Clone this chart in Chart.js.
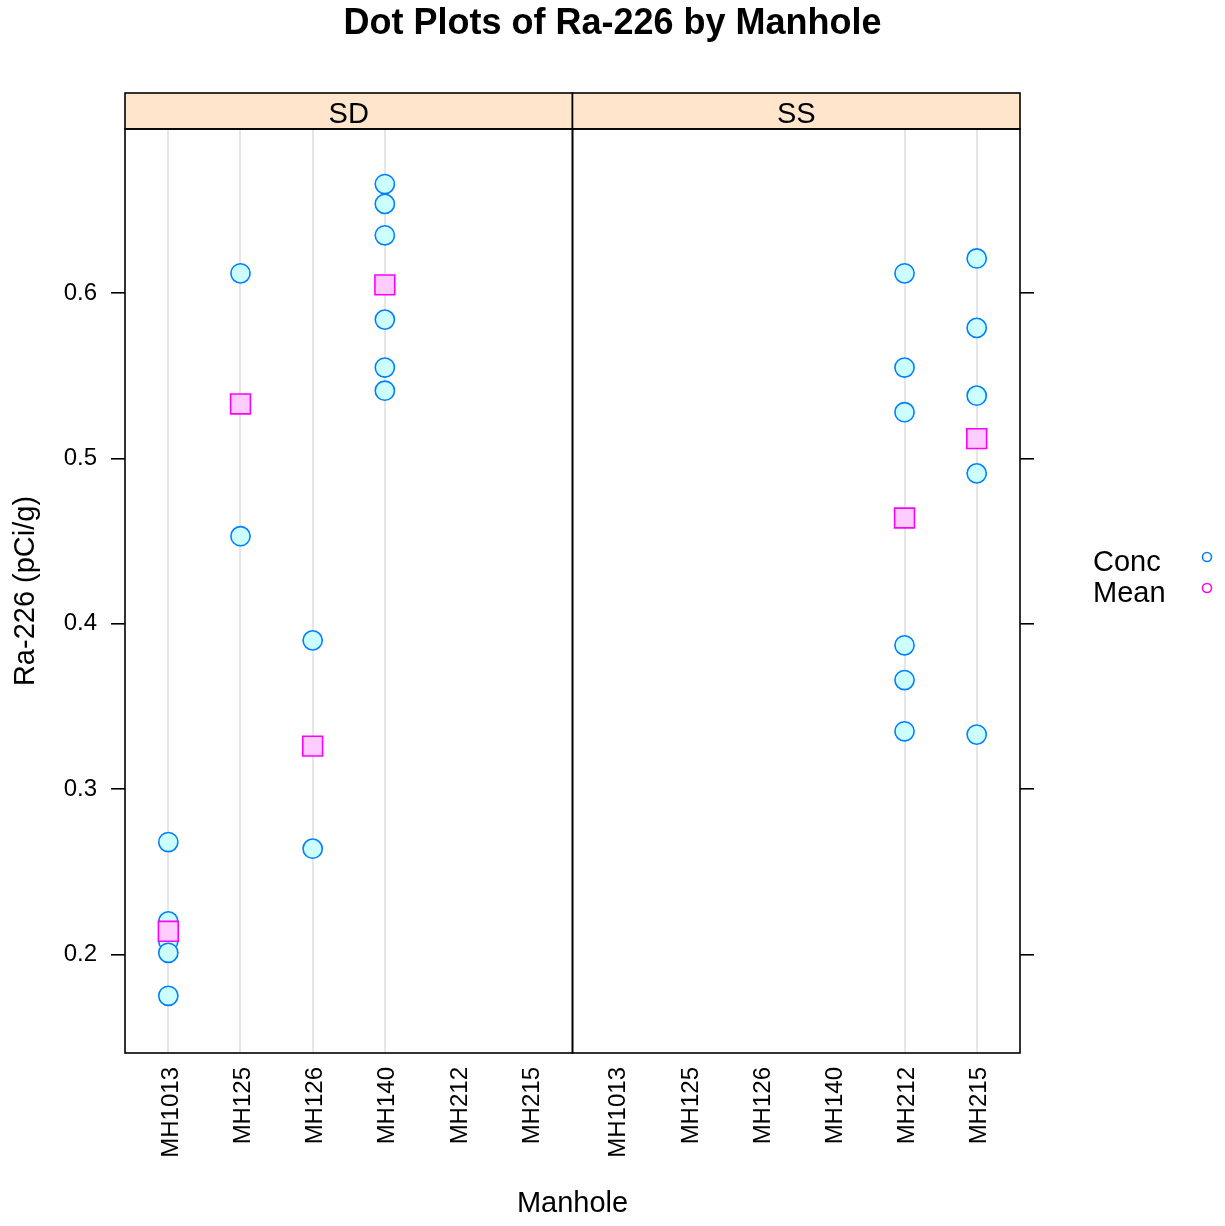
<!DOCTYPE html>
<html>
<head>
<meta charset="utf-8">
<title>Dot Plots of Ra-226 by Manhole</title>
<script src="https://cdn.jsdelivr.net/npm/chart.js@4.4.1/dist/chart.umd.min.js"></script>
<style>
  html, body { margin: 0; padding: 0; background: #ffffff; }
  #wrap { position: relative; width: 1225px; height: 1226px; }
</style>
</head>
<body>
<div id="wrap"><canvas id="chart" width="1225" height="1226"></canvas></div>
<script>
// Manhole categories (same order in every panel)
const manholes = ['MH1013', 'MH125', 'MH126', 'MH140', 'MH212', 'MH215'];
// Sample-type panels
const panels = ['SD', 'SS'];

// Ra-226 concentrations (pCi/g) per manhole, SD panel
const sdConc = [
  [0.268, 0.220, 0.208, 0.201, 0.175],
  [0.612, 0.453],
  [0.390, 0.264],
  [0.666, 0.654, 0.635, 0.584, 0.555, 0.541],
  [],
  []
];
// Ra-226 concentrations (pCi/g) per manhole, SS panel
const ssConc = [
  [],
  [],
  [],
  [],
  [0.612, 0.555, 0.528, 0.387, 0.366, 0.335],
  [0.621, 0.579, 0.538, 0.491, 0.333]
];
// Manhole means (pCi/g)
const sdMean = [0.214, 0.533, 0.326, 0.605, null, null];
const ssMean = [null, null, null, null, 0.464, 0.512];

// Value-axis tick labels
const yTicks = [0.2, 0.3, 0.4, 0.5, 0.6];
// Axis limits
const yRange = [0.1404, 0.6993];
const panelRanges = [[-0.6, 5.6], [5.6, 11.8]];

const concByPanel = [sdConc, ssConc];
const meanByPanel = [sdMean, ssMean];

// Position of each manhole inside a panel on the shared x scale
function catX(panel, i) { return panelRanges[panel][0] + 0.6 + i; }

const concPoints = [];
const meanPoints = [];
concByPanel.forEach((groups, p) => {
  groups.forEach((vals, i) => vals.forEach(v => concPoints.push({ x: catX(p, i), y: v })));
});
meanByPanel.forEach((means, p) => {
  means.forEach((v, i) => { if (v !== null) meanPoints.push({ x: catX(p, i), y: v }); });
});

const xTickValues = [];
const xTickLabels = {};
panels.forEach((_, p) => manholes.forEach((m, i) => {
  const v = +catX(p, i).toFixed(3);
  xTickValues.push(v);
  xTickLabels[v] = m;
}));

const FONT = "'Liberation Sans', Arial, Helvetica, sans-serif";
Chart.defaults.font.family = FONT;
Chart.defaults.color = '#000000';

const STRIP_H = 36;

const latticePlugin = {
  id: 'lattice',
  beforeDatasetsDraw(chart) {
    const { ctx, chartArea: a, scales: { x } } = chart;
    ctx.save();
    ctx.strokeStyle = '#E6E6E6';
    ctx.lineWidth = 2;
    concByPanel.forEach((groups, p) => {
      groups.forEach((vals, i) => {
        if (!vals.length) return;
        const px = Math.round(x.getPixelForValue(catX(p, i)));
        ctx.beginPath();
        ctx.moveTo(px, a.top);
        ctx.lineTo(px, a.bottom);
        ctx.stroke();
      });
    });
    ctx.restore();
  },
  afterDraw(chart) {
    const { ctx, chartArea: a, scales: { x } } = chart;
    ctx.save();
    panels.forEach((name, p) => {
      const l = x.getPixelForValue(panelRanges[p][0]);
      const r = x.getPixelForValue(panelRanges[p][1]);
      // strip
      ctx.fillStyle = '#FFE5CC';
      ctx.fillRect(l, a.top - STRIP_H, r - l, STRIP_H);
      ctx.strokeStyle = '#000000';
      ctx.lineWidth = 1.6;
      ctx.strokeRect(l, a.top - STRIP_H, r - l, STRIP_H);
      ctx.fillStyle = '#000000';
      ctx.font = '29px ' + FONT;
      ctx.textAlign = 'center';
      ctx.textBaseline = 'middle';
      ctx.fillText(name, (l + r) / 2, a.top - STRIP_H / 2 + 4);
      // panel box
      ctx.strokeRect(l, a.top, r - l, a.bottom - a.top);
    });
    // legend
    const legend = [['Conc', '#0080FF'], ['Mean', '#FF00FF']];
    ctx.font = '29px ' + FONT;
    ctx.textAlign = 'left';
    ctx.textBaseline = 'middle';
    legend.forEach(([label, col], k) => {
      const cy = 563 + k * 31;
      ctx.fillStyle = '#000000';
      ctx.fillText(label, 1093, cy);
      ctx.beginPath();
      ctx.arc(1207, cy - 6, 4.5, 0, Math.PI * 2);
      ctx.strokeStyle = col;
      ctx.lineWidth = 1.6;
      ctx.stroke();
    });
    ctx.restore();
  }
};

const setYTicks = s => { s.ticks = yTicks.map(v => ({ value: v })); };

new Chart(document.getElementById('chart'), {
  type: 'scatter',
  data: {
    datasets: [
      {
        label: 'Mean',
        data: meanPoints,
        pointStyle: 'rect',
        pointRadius: 14,
        pointHoverRadius: 14,
        pointBackgroundColor: '#FFCCFF',
        pointBorderColor: '#FF00FF',
        pointBorderWidth: 1.6,
        order: 0
      },
      {
        label: 'Conc',
        data: concPoints,
        pointStyle: 'circle',
        pointRadius: 9.6,
        pointHoverRadius: 9.6,
        pointBackgroundColor: '#CCFFFF',
        pointBorderColor: '#0080FF',
        pointBorderWidth: 1.6,
        order: 1
      }
    ]
  },
  options: {
    responsive: false,
    animation: false,
    events: [],
    layout: { padding: 0 },
    plugins: {
      legend: { display: false },
      tooltip: { enabled: false },
      title: {
        display: true,
        text: 'Dot Plots of Ra-226 by Manhole',
        color: '#000000',
        font: { size: 36, weight: 'bold', lineHeight: 1 },
        padding: { top: 6, bottom: 87 }
      }
    },
    scales: {
      x: {
        type: 'linear',
        position: 'bottom',
        min: panelRanges[0][0],
        max: panelRanges[1][1],
        afterBuildTicks: s => { s.ticks = xTickValues.map(v => ({ value: v })); },
        afterFit: s => { s.height = 173; },
        grid: { display: false, drawTicks: false },
        border: { display: false },
        ticks: {
          autoSkip: false,
          minRotation: 90,
          maxRotation: 90,
          padding: 14,
          labelOffset: 3,
          font: { size: 24 },
          color: '#000000',
          callback: v => xTickLabels[+(+v).toFixed(3)] || ''
        },
        title: {
          display: true,
          text: 'Manhole',
          color: '#000000',
          font: { size: 29, lineHeight: 1 },
          padding: { top: 0, bottom: 8 }
        }
      },
      y: {
        type: 'linear',
        position: 'left',
        min: yRange[0],
        max: yRange[1],
        afterBuildTicks: setYTicks,
        afterFit: s => { s.width = 125; },
        grid: { drawOnChartArea: false, drawTicks: true, tickLength: 14, color: '#000000', lineWidth: 1.6 },
        border: { display: false },
        ticks: {
          padding: 14,
          font: { size: 24 },
          color: '#000000',
          callback: v => (+v).toFixed(1)
        },
        title: {
          display: true,
          text: 'Ra-226 (pCi/g)',
          color: '#000000',
          font: { size: 29, lineHeight: 1 },
          padding: { top: 11, bottom: 0 }
        }
      },
      yRight: {
        type: 'linear',
        position: 'right',
        min: yRange[0],
        max: yRange[1],
        afterBuildTicks: setYTicks,
        afterFit: s => { s.width = 205; },
        grid: { drawOnChartArea: false, drawTicks: true, tickLength: 14, color: '#000000', lineWidth: 1.6 },
        border: { display: false },
        ticks: { padding: 0, font: { size: 24 }, callback: () => '' }
      }
    }
  },
  plugins: [latticePlugin]
});
</script>
</body>
</html>
